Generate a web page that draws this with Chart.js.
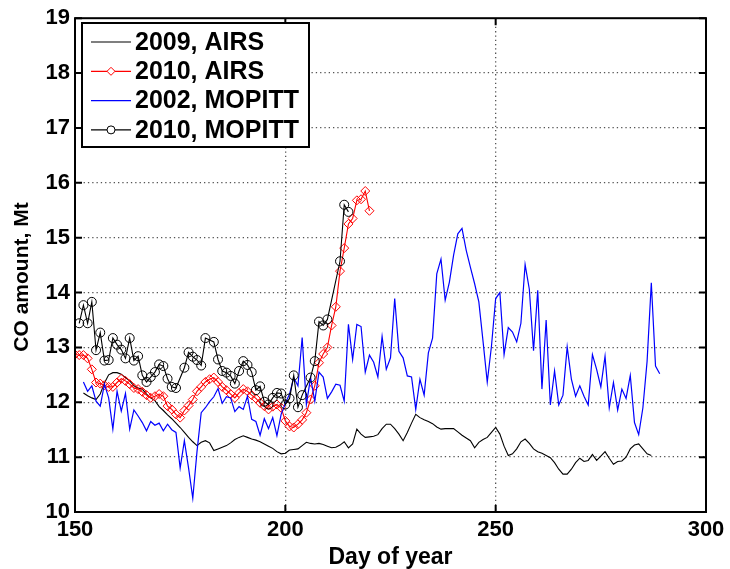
<!DOCTYPE html>
<html>
<head>
<meta charset="utf-8">
<script src="https://cdn.jsdelivr.net/npm/chart.js@4.4.1/dist/chart.umd.min.js"></script>
<style>
  html, body { margin: 0; padding: 0; background: #fff; }
  #wrap { width: 730px; height: 569px; }
</style>
</head>
<body>
<div id="wrap"><canvas id="chart"></canvas></div>
<script>
// values: [day of year, CO amount in Mt]
const airs2009 = [
  [152, 12.17], [153, 12.12], [154, 12.08], [155, 12.05], [156, 12.15], [157, 12.35], [158, 12.50],
  [159, 12.54], [160, 12.54], [161, 12.51], [162, 12.45], [163, 12.39], [164, 12.30], [165, 12.26],
  [166, 12.24], [167, 12.15], [168, 12.08], [169, 12.03], [170, 11.92], [171, 11.85], [172, 11.77],
  [173, 11.70], [174, 11.62], [175, 11.54], [176, 11.45], [177, 11.36], [178, 11.28], [179, 11.21],
  [180, 11.27], [181, 11.30], [182, 11.26], [183, 11.12], [184, 11.15], [185, 11.18], [186, 11.21],
  [187, 11.26], [188, 11.32], [189, 11.36], [190, 11.39], [191, 11.36], [192, 11.33], [193, 11.31],
  [194, 11.28], [195, 11.24], [196, 11.20], [197, 11.16], [198, 11.10], [199, 11.06], [200, 11.07],
  [201, 11.13], [202, 11.14], [203, 11.15], [204, 11.21], [205, 11.27], [206, 11.25], [207, 11.24],
  [208, 11.25], [209, 11.23], [210, 11.20], [211, 11.17], [212, 11.18], [213, 11.22], [214, 11.28],
  [215, 11.17], [216, 11.24], [217, 11.51], [218, 11.42], [219, 11.36], [220, 11.37], [221, 11.38],
  [222, 11.41], [223, 11.52], [224, 11.60], [225, 11.60], [226, 11.52], [227, 11.42], [228, 11.30],
  [229, 11.45], [230, 11.62], [231, 11.78], [232, 11.72], [233, 11.68], [234, 11.65], [235, 11.61],
  [236, 11.55], [237, 11.51], [238, 11.52], [239, 11.52], [240, 11.52], [241, 11.46], [242, 11.40],
  [243, 11.35], [244, 11.30], [245, 11.17], [246, 11.27], [247, 11.32], [248, 11.36], [249, 11.45],
  [250, 11.54], [251, 11.42], [252, 11.20], [253, 11.03], [254, 11.06], [255, 11.15], [256, 11.28],
  [257, 11.33], [258, 11.25], [259, 11.15], [260, 11.10], [261, 11.07], [262, 11.03], [263, 10.99],
  [264, 10.90], [265, 10.78], [266, 10.69], [267, 10.69], [268, 10.78], [269, 10.90], [270, 10.98],
  [271, 10.92], [272, 10.94], [273, 11.05], [274, 10.94], [275, 11.02], [276, 11.10], [277, 10.98],
  [278, 10.87], [279, 10.92], [280, 10.93], [281, 11.00], [282, 11.15], [283, 11.22], [284, 11.24],
  [285, 11.15], [286, 11.06], [287, 11.03],
];

const airs2010 = [
  [150, 12.87], [151, 12.86], [152, 12.86], [153, 12.80], [154, 12.60], [155, 12.36], [156, 12.34],
  [157, 12.31], [158, 12.28], [159, 12.28], [160, 12.36], [161, 12.43], [162, 12.39], [163, 12.33],
  [164, 12.26], [165, 12.24], [166, 12.19], [167, 12.13], [168, 12.08], [169, 12.11], [170, 12.15],
  [171, 12.11], [172, 11.93], [173, 11.87], [174, 11.78], [175, 11.72], [176, 11.85], [177, 11.94],
  [178, 12.05], [179, 12.20], [180, 12.28], [181, 12.37], [182, 12.42], [183, 12.45], [184, 12.37],
  [185, 12.28], [186, 12.22], [187, 12.15], [188, 12.08], [189, 12.17], [190, 12.24], [191, 12.20],
  [192, 12.13], [193, 12.07], [194, 11.99], [195, 11.93], [196, 11.87], [197, 11.92], [198, 11.96],
  [199, 11.90], [200, 11.66], [201, 11.56], [202, 11.54], [203, 11.60], [204, 11.68], [205, 11.81],
  [206, 12.05], [207, 12.30], [208, 12.72], [209, 12.88], [210, 13.00], [211, 13.40], [212, 13.74],
  [213, 14.39], [214, 14.81], [215, 15.25], [216, 15.35], [217, 15.68], [218, 15.70], [219, 15.85],
  [220, 15.49],
];

const mopitt2002 = [
  [152, 12.37], [153, 12.20], [154, 12.30], [155, 12.02], [156, 11.93], [157, 12.33], [158, 12.08],
  [159, 11.51], [160, 12.20], [161, 11.84], [162, 12.16], [163, 11.51], [164, 11.86], [165, 11.75],
  [166, 11.63], [167, 11.48], [168, 11.65], [169, 11.58], [170, 11.62], [171, 11.48], [172, 11.60],
  [173, 11.50], [174, 11.45], [175, 10.80], [176, 11.30], [177, 10.80], [178, 10.25], [179, 11.10],
  [180, 11.81], [181, 11.90], [182, 12.01], [183, 12.10], [184, 12.25], [185, 11.98], [186, 12.10],
  [187, 12.08], [188, 11.83], [189, 11.92], [190, 11.87], [191, 12.11], [192, 11.69], [193, 11.65],
  [194, 11.40], [195, 11.70], [196, 11.52], [197, 11.72], [198, 11.39], [199, 11.78], [200, 11.98],
  [201, 12.15], [202, 12.45], [203, 12.30], [204, 13.18], [205, 11.96], [206, 12.45], [207, 12.02],
  [208, 12.55], [209, 12.46], [210, 12.07], [211, 12.19], [212, 12.33], [213, 12.31], [214, 12.02],
  [215, 13.42], [216, 12.78], [217, 13.42], [218, 13.38], [219, 12.55], [220, 12.86], [221, 12.73],
  [222, 12.46], [223, 13.20], [224, 12.60], [225, 12.81], [226, 13.89], [227, 12.93], [228, 12.81],
  [229, 12.48], [230, 12.46], [231, 11.87], [232, 12.42], [233, 12.13], [234, 12.90], [235, 13.17],
  [236, 14.34], [237, 14.61], [238, 13.86], [239, 14.19], [240, 14.68], [241, 15.07], [242, 15.17],
  [243, 14.77], [244, 14.46], [245, 14.16], [246, 13.83], [247, 13.11], [248, 12.37], [249, 13.02],
  [250, 13.89], [251, 14.00], [252, 12.87], [253, 13.36], [254, 13.28], [255, 13.10], [256, 13.44],
  [257, 14.51], [258, 14.06], [259, 12.94], [260, 14.04], [261, 12.24], [262, 13.50], [263, 11.95],
  [264, 12.57], [265, 11.95], [266, 12.13], [267, 13.01], [268, 12.42], [269, 12.11], [270, 12.30],
  [271, 12.11], [272, 11.95], [273, 12.87], [274, 12.60], [275, 12.28], [276, 12.84], [277, 11.90],
  [278, 12.36], [279, 11.86], [280, 12.24], [281, 12.07], [282, 12.49], [283, 11.63], [284, 11.41],
  [285, 11.90], [286, 12.75], [287, 14.18], [288, 12.66], [289, 12.52],
];

const mopitt2010 = [
  [151, 13.44], [152, 13.77], [153, 13.44], [154, 13.83], [155, 12.95], [156, 13.27], [157, 12.76],
  [158, 12.77], [159, 13.17], [160, 13.05], [161, 12.96], [162, 12.80], [163, 13.17], [164, 12.76],
  [165, 12.84], [166, 12.49], [167, 12.37], [168, 12.46], [169, 12.55], [170, 12.69], [171, 12.66],
  [172, 12.43], [173, 12.28], [174, 12.26], [176, 12.63], [177, 12.91], [178, 12.83], [179, 12.77],
  [180, 12.67], [181, 13.17], [183, 13.10], [184, 12.78], [185, 12.57], [186, 12.54], [187, 12.48],
  [188, 12.34], [189, 12.57], [190, 12.75], [191, 12.68], [192, 12.55], [193, 12.22], [194, 12.29],
  [195, 12.01], [196, 11.96], [197, 12.08], [198, 12.17], [199, 12.16], [200, 11.96], [201, 12.07],
  [202, 12.49], [203, 11.91], [204, 12.13], [206, 12.45], [207, 12.75], [208, 13.47], [209, 13.40],
  [210, 13.51], [213, 14.57], [214, 15.60], [215, 15.47],
];

const xTicks = [150, 200, 250, 300];
const yTicks = [10, 11, 12, 13, 14, 15, 16, 17, 18, 19];
const yTitle = "CO amount, Mt";

const FONT = "'Liberation Sans', Arial, Helvetica, sans-serif";

const toXY = (rows) => rows.map(([d, v]) => ({ x: d, y: v }));

// MATLAB style box, inward ticks, y label and the boxed legend
const frame = {
  id: "frame",
  afterDraw(chart) {
    const { ctx, chartArea: a, scales: { x, y } } = chart;
    ctx.save();
    ctx.strokeStyle = "#000";
    ctx.lineWidth = 2;
    ctx.strokeRect(a.left, a.top, a.right - a.left, a.bottom - a.top);

    const t = 7;
    ctx.beginPath();
    xTicks.forEach((v) => {
      const px = x.getPixelForValue(v);
      ctx.moveTo(px, a.bottom); ctx.lineTo(px, a.bottom - t);
      ctx.moveTo(px, a.top); ctx.lineTo(px, a.top + t);
    });
    yTicks.forEach((v) => {
      const py = y.getPixelForValue(v);
      ctx.moveTo(a.left, py); ctx.lineTo(a.left + t, py);
      ctx.moveTo(a.right, py); ctx.lineTo(a.right - t, py);
    });
    ctx.stroke();

    // y label, sits a little below the axis middle in the original
    ctx.save();
    ctx.translate(22, 277);
    ctx.rotate(-Math.PI / 2);
    ctx.fillStyle = "#000";
    ctx.font = `bold 21px ${FONT}`;
    ctx.textAlign = "center";
    ctx.textBaseline = "middle";
    ctx.fillText(yTitle, 0, 0);
    ctx.restore();

    // legend
    const bx = 82, by = 23, bw = 227, bh = 124;
    ctx.fillStyle = "#fff";
    ctx.fillRect(bx, by, bw, bh);
    ctx.lineWidth = 2;
    ctx.strokeRect(bx, by, bw, bh);
    ctx.textBaseline = "middle";
    chart.data.datasets.forEach((ds, i) => {
      const ry = 42 + i * 29.3;
      ctx.strokeStyle = ds.borderColor;
      ctx.lineWidth = 1.2;
      ctx.beginPath();
      ctx.moveTo(91, ry); ctx.lineTo(131, ry);
      ctx.stroke();
      if (ds.pointRadius > 0) {
        ctx.fillStyle = "#fff";
        ctx.lineWidth = 1;
        Chart.helpers.drawPoint(ctx, {
          pointStyle: ds.pointStyle, radius: 4, rotation: 0, borderWidth: 1,
        }, 111, ry);
      }
      ctx.fillStyle = "#000";
      ctx.font = `bold 25px ${FONT}`;
      ctx.fillText(ds.label, 135, ry + 1);
    });
    ctx.restore();
  },
};

new Chart(document.getElementById("chart"), {
  type: "line",
  data: {
    datasets: [
      {
        label: "2009, AIRS",
        data: toXY(airs2009),
        borderColor: "#000",
        borderWidth: 1.1,
        pointRadius: 0,
        order: 4,
      },
      {
        label: "2010, AIRS",
        data: toXY(airs2010),
        borderColor: "#ff0000",
        borderWidth: 1.1,
        pointStyle: "rectRot",
        pointRadius: 4.5,
        pointBorderWidth: 1,
        pointBorderColor: "#ff0000",
        pointBackgroundColor: "rgba(0,0,0,0)",
        order: 3,
      },
      {
        label: "2002, MOPITT",
        data: toXY(mopitt2002),
        borderColor: "#0000ff",
        borderWidth: 1.2,
        pointRadius: 0,
        order: 2,
      },
      {
        label: "2010, MOPITT",
        data: toXY(mopitt2010),
        borderColor: "#000",
        borderWidth: 1.1,
        pointStyle: "circle",
        pointRadius: 4.5,
        pointBorderWidth: 1,
        pointBorderColor: "#000",
        pointBackgroundColor: "rgba(0,0,0,0)",
        order: 1,
      },
    ],
  },
  options: {
    responsive: true,
    maintainAspectRatio: false,
    animation: false,
    layout: { padding: { top: 14, right: 24, left: 0, bottom: 0 } },
    elements: { line: { tension: 0 } },
    scales: {
      x: {
        type: "linear",
        min: 150,
        max: 300,
        afterFit: (s) => { s.height = 57; },
        afterBuildTicks: (s) => { s.ticks = xTicks.map((v) => ({ value: v })); },
        grid: {
          color: (c) => (c.tick && (c.tick.value === 150 || c.tick.value === 300) ? "rgba(0,0,0,0)" : "#555"),
          drawTicks: false,
          lineWidth: 1.3,
        },
        border: { display: false, dash: [1.3, 3] },
        ticks: {
          color: "#000",
          padding: 5,
          maxRotation: 0,
          font: { family: FONT, weight: "bold", size: 22 },
        },
        title: {
          display: true,
          text: "Day of year",
          color: "#000",
          padding: { top: 0, bottom: -2 },
          font: { family: FONT, weight: "bold", size: 23 },
        },
      },
      y: {
        type: "linear",
        min: 10,
        max: 19,
        afterFit: (s) => { s.width = 75; },
        afterBuildTicks: (s) => { s.ticks = yTicks.map((v) => ({ value: v })); },
        grid: {
          color: (c) => (c.tick && (c.tick.value === 10 || c.tick.value === 19) ? "rgba(0,0,0,0)" : "#555"),
          drawTicks: false,
          lineWidth: 1.3,
        },
        border: { display: false, dash: [1.3, 3] },
        ticks: {
          color: "#000",
          padding: 5,
          font: { family: FONT, weight: "bold", size: 22 },
        },
      },
    },
    plugins: {
      legend: { display: false },
      tooltip: { enabled: false },
    },
  },
  plugins: [frame],
});
</script>
</body>
</html>
